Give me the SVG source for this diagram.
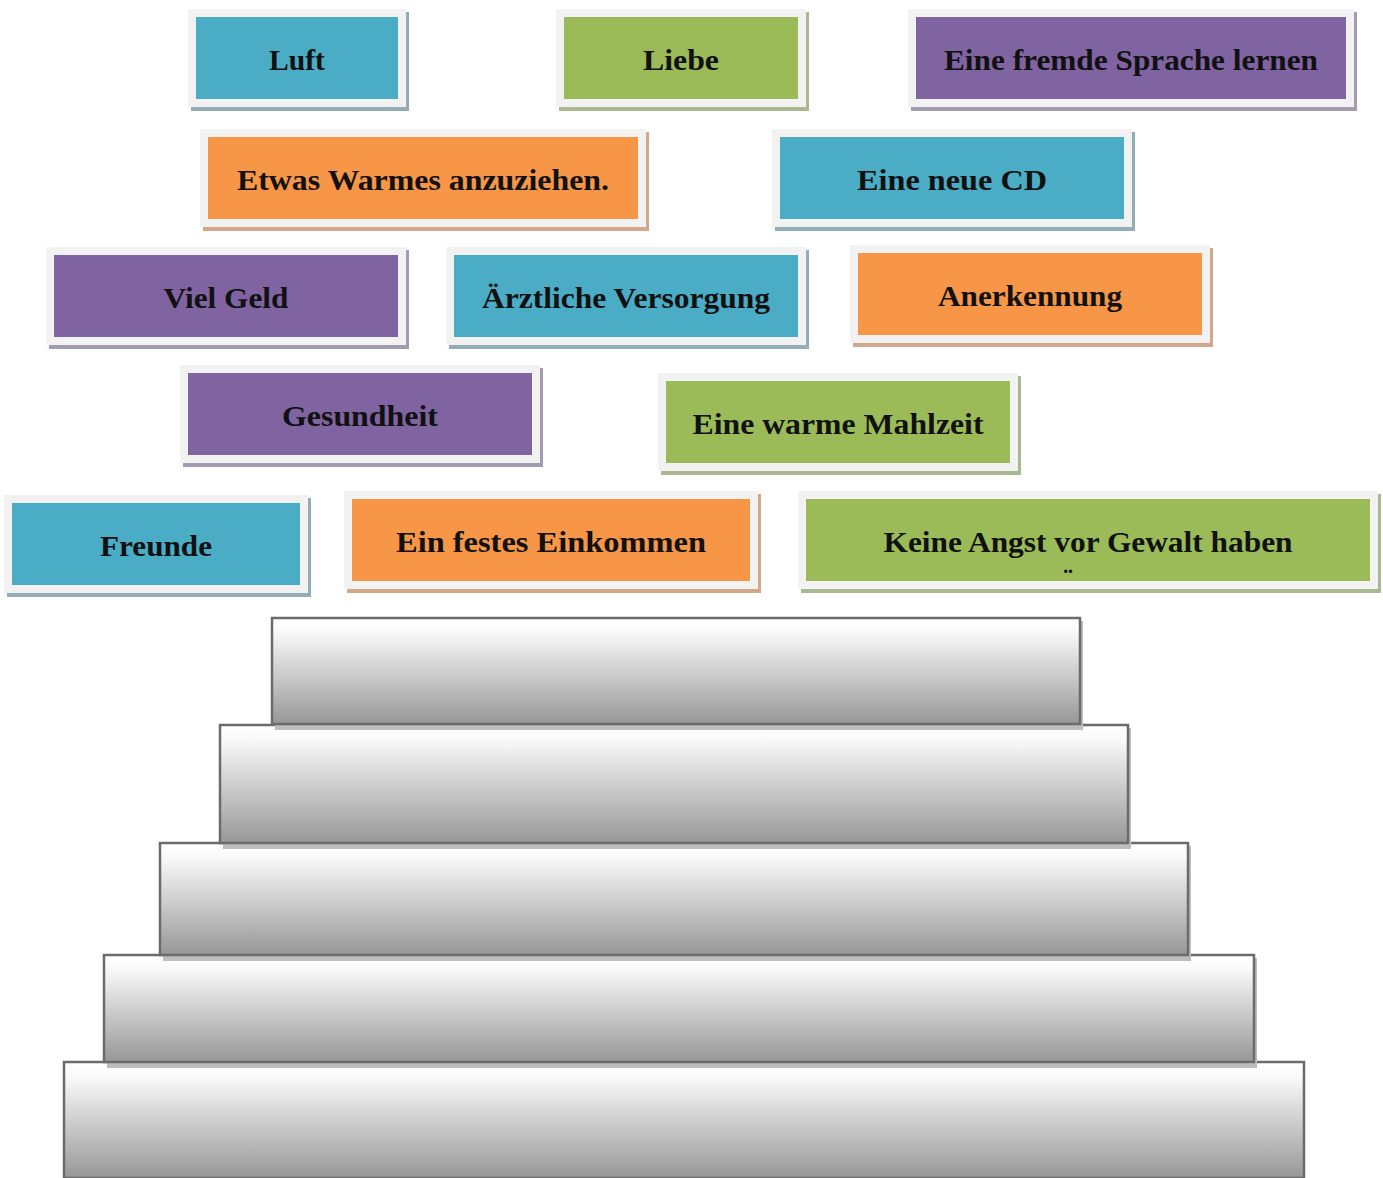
<svg xmlns="http://www.w3.org/2000/svg" width="1383" height="1178" viewBox="0 0 1383 1178">
<defs>
<linearGradient id="stepGrad" x1="0" y1="0" x2="0" y2="1">
<stop offset="0" stop-color="#ffffff"/>
<stop offset="0.12" stop-color="#fafafa"/>
<stop offset="1" stop-color="#979797"/>
</linearGradient>
</defs>
<style>
.frame{fill:#f2f2f2}
.blue{fill:#4bacc6}
.green{fill:#9bbb59}
.purple{fill:#8064a2}
.orange{fill:#f79646}
.sh-blue{fill:#93adb7}
.sh-green{fill:#aab891}
.sh-purple{fill:#a39bb0}
.sh-orange{fill:#d3a88a}
.lbl{font-family:"Liberation Serif","Times New Roman",serif;font-weight:bold;font-size:29px;fill:#111;text-anchor:middle}
.step{fill:url(#stepGrad);stroke:#6b6b6b;stroke-width:2.5}
.stepsh{fill:#bdbdbd}
</style>
<rect width="1383" height="1178" fill="#ffffff"/>

<g id="luft">
<rect class="sh-blue" x="191" y="12" width="218" height="99"/>
<rect class="frame" x="188" y="9" width="218" height="98"/>
<rect class="blue" x="196" y="17" width="202" height="82"/>
<text class="lbl" x="297" y="70" textLength="56" lengthAdjust="spacingAndGlyphs">Luft</text>
</g>
<g id="liebe">
<rect class="sh-green" x="559" y="12" width="250" height="99"/>
<rect class="frame" x="556" y="9" width="250" height="98"/>
<rect class="green" x="564" y="17" width="234" height="82"/>
<text class="lbl" x="681" y="70" textLength="76" lengthAdjust="spacingAndGlyphs">Liebe</text>
</g>
<g id="sprache">
<rect class="sh-purple" x="911" y="12" width="446" height="99"/>
<rect class="frame" x="908" y="9" width="446" height="98"/>
<rect class="purple" x="916" y="17" width="430" height="82"/>
<text class="lbl" x="1131" y="70" textLength="374" lengthAdjust="spacingAndGlyphs">Eine fremde Sprache lernen</text>
</g>
<g id="warmes">
<rect class="sh-orange" x="203" y="132" width="446" height="99"/>
<rect class="frame" x="200" y="129" width="446" height="98"/>
<rect class="orange" x="208" y="137" width="430" height="82"/>
<text class="lbl" x="423" y="190" textLength="372" lengthAdjust="spacingAndGlyphs">Etwas Warmes anzuziehen.</text>
</g>
<g id="cd">
<rect class="sh-blue" x="775" y="132" width="360" height="99"/>
<rect class="frame" x="772" y="129" width="360" height="98"/>
<rect class="blue" x="780" y="137" width="344" height="82"/>
<text class="lbl" x="952" y="190" textLength="190" lengthAdjust="spacingAndGlyphs">Eine neue CD</text>
</g>
<g id="geld">
<rect class="sh-purple" x="49" y="250" width="360" height="99"/>
<rect class="frame" x="46" y="247" width="360" height="98"/>
<rect class="purple" x="54" y="255" width="344" height="82"/>
<text class="lbl" x="226" y="308" textLength="125" lengthAdjust="spacingAndGlyphs">Viel Geld</text>
</g>
<g id="versorgung">
<rect class="sh-blue" x="449" y="250" width="360" height="99"/>
<rect class="frame" x="446" y="247" width="360" height="98"/>
<rect class="blue" x="454" y="255" width="344" height="82"/>
<text class="lbl" x="626" y="308" textLength="288" lengthAdjust="spacingAndGlyphs">Ärztliche Versorgung</text>
</g>
<g id="anerkennung">
<rect class="sh-orange" x="853" y="248" width="360" height="99"/>
<rect class="frame" x="850" y="245" width="360" height="98"/>
<rect class="orange" x="858" y="253" width="344" height="82"/>
<text class="lbl" x="1030" y="306" textLength="184" lengthAdjust="spacingAndGlyphs">Anerkennung</text>
</g>
<g id="gesundheit">
<rect class="sh-purple" x="183" y="368" width="360" height="99"/>
<rect class="frame" x="180" y="365" width="360" height="98"/>
<rect class="purple" x="188" y="373" width="344" height="82"/>
<text class="lbl" x="360" y="426" textLength="156" lengthAdjust="spacingAndGlyphs">Gesundheit</text>
</g>
<g id="mahlzeit">
<rect class="sh-green" x="661" y="376" width="360" height="99"/>
<rect class="frame" x="658" y="373" width="360" height="98"/>
<rect class="green" x="666" y="381" width="344" height="82"/>
<text class="lbl" x="838" y="434" textLength="291" lengthAdjust="spacingAndGlyphs">Eine warme Mahlzeit</text>
</g>
<g id="freunde">
<rect class="sh-blue" x="7" y="498" width="304" height="99"/>
<rect class="frame" x="4" y="495" width="304" height="98"/>
<rect class="blue" x="12" y="503" width="288" height="82"/>
<text class="lbl" x="156" y="556" textLength="112" lengthAdjust="spacingAndGlyphs">Freunde</text>
</g>
<g id="einkommen">
<rect class="sh-orange" x="347" y="494" width="414" height="99"/>
<rect class="frame" x="344" y="491" width="414" height="98"/>
<rect class="orange" x="352" y="499" width="398" height="82"/>
<text class="lbl" x="551" y="552" textLength="310" lengthAdjust="spacingAndGlyphs">Ein festes Einkommen</text>
</g>
<g id="gewalt">
<rect class="sh-green" x="801" y="494" width="580" height="99"/>
<rect class="frame" x="798" y="491" width="580" height="98"/>
<rect class="green" x="806" y="499" width="564" height="82"/>
<text class="lbl" x="1088" y="552" textLength="409" lengthAdjust="spacingAndGlyphs">Keine Angst vor Gewalt haben</text>
<text class="lbl" x="1068" y="589">¨</text>
</g>

<g id="pyramid">
<g id="step5">
<rect class="step" x="64" y="1062" width="1240" height="116"/>
</g>
<g id="step4">
<rect class="stepsh" x="107" y="958" width="1150" height="110"/>
<rect class="step" x="104" y="955" width="1150" height="107"/>
</g>
<g id="step3">
<rect class="stepsh" x="163" y="846" width="1028" height="115"/>
<rect class="step" x="160" y="843" width="1028" height="112"/>
</g>
<g id="step2">
<rect class="stepsh" x="223" y="728" width="908" height="121"/>
<rect class="step" x="220" y="725" width="908" height="118"/>
</g>
<g id="step1">
<rect class="stepsh" x="275" y="621" width="808" height="109"/>
<rect class="step" x="272" y="618" width="808" height="106"/>
</g>
</g>
<g id="connectors"/>
</svg>
